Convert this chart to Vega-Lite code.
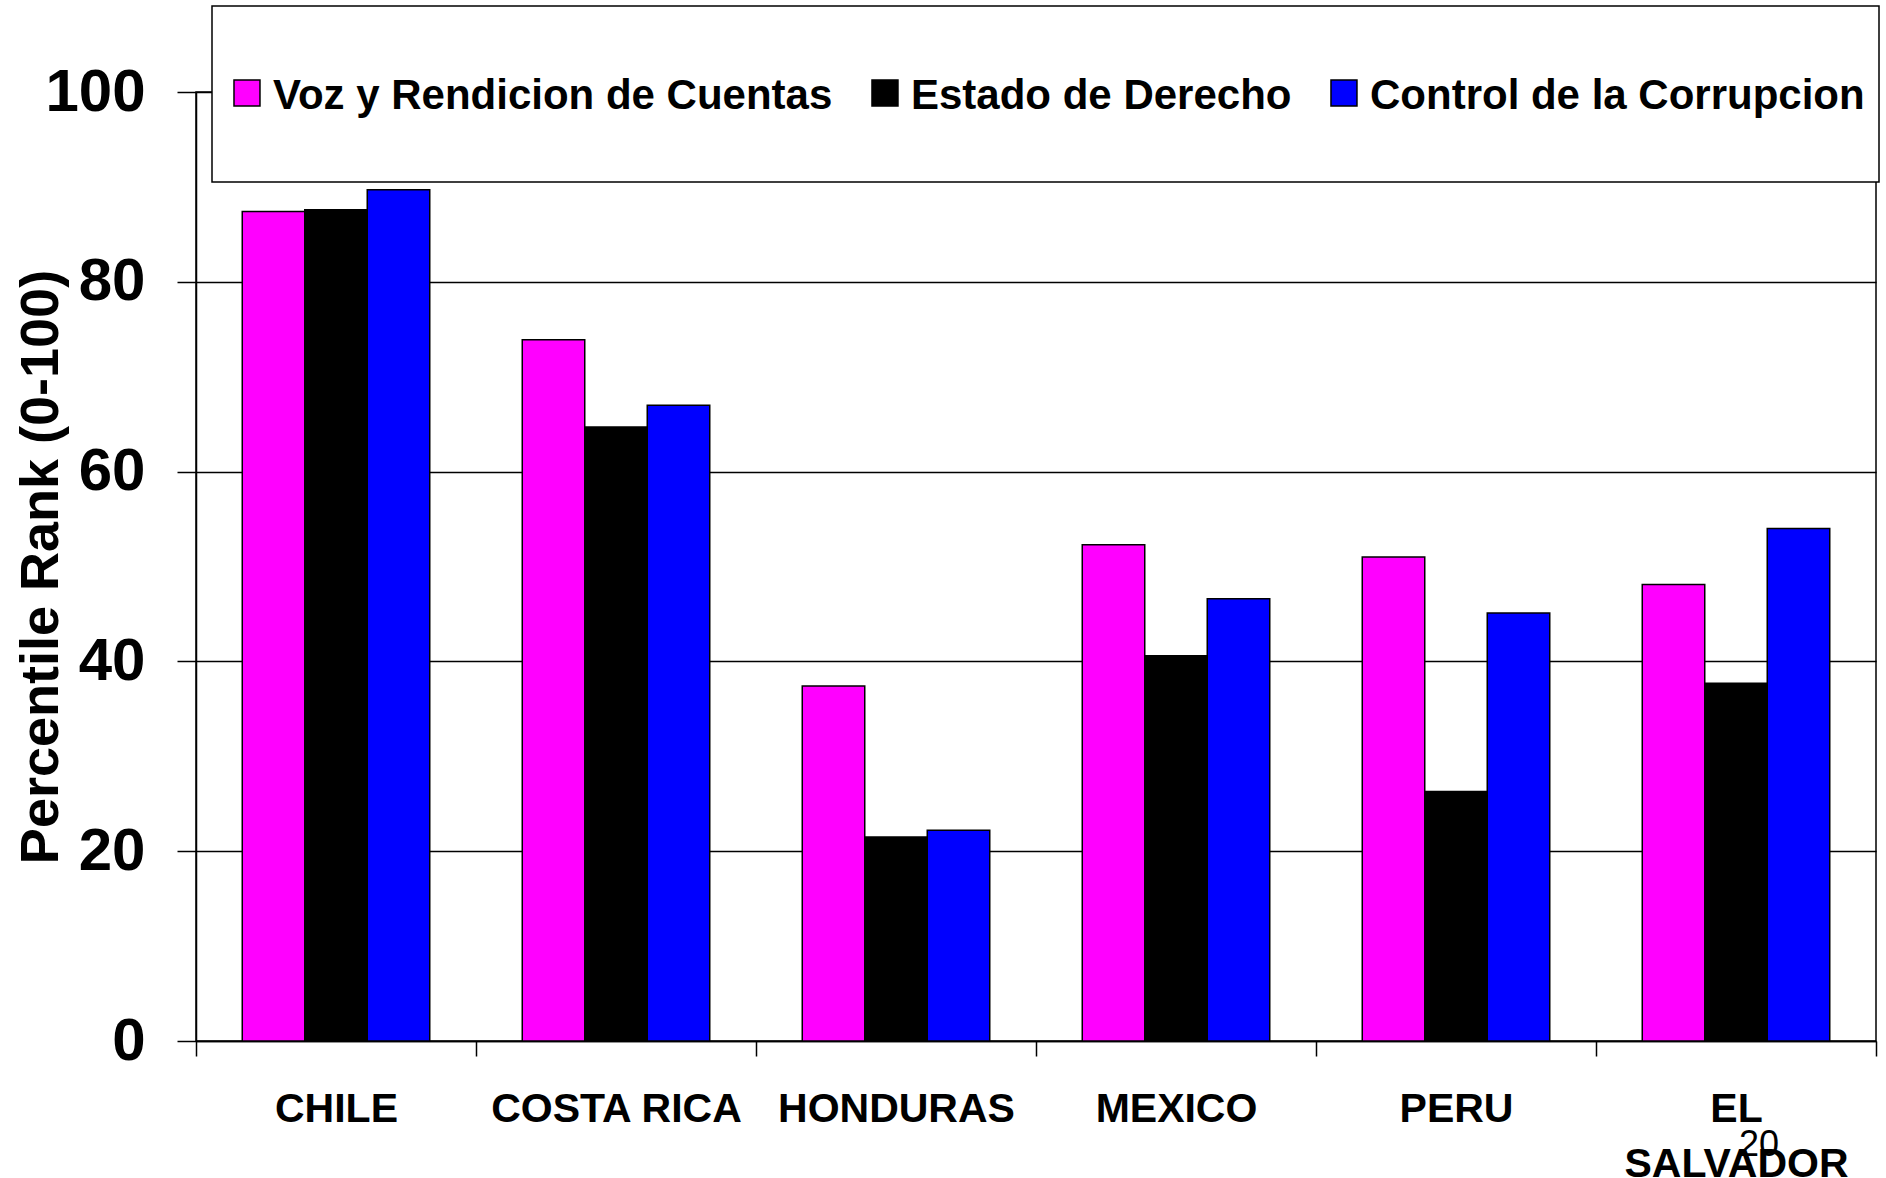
{
  "$schema": "https://vega.github.io/schema/vega-lite/v6.json",
  "width": 1680,
  "height": 949,
  "autosize": {"type": "none"},
  "padding": {"left": 196, "top": 92, "right": 10, "bottom": 137},
  "background": "white",
  "config": {
    "view": {"stroke": "black", "strokeWidth": 1.5},
    "font": "Liberation Sans"
  },
  "title": {
    "text": "20",
    "orient": "bottom",
    "anchor": "end",
    "frame": "group",
    "font": "Liberation Sans",
    "fontSize": 36,
    "fontWeight": "normal",
    "color": "black",
    "baseline": "top",
    "offset": 0,
    "dx": -97,
    "dy": -56
  },
  "data": {
    "values": [
      {"country": "CHILE", "indicator": "Voz y Rendicion de Cuentas", "value": 87.4},
      {"country": "CHILE", "indicator": "Estado de Derecho", "value": 87.6},
      {"country": "CHILE", "indicator": "Control de la Corrupcion", "value": 89.7},
      {"country": "COSTA RICA", "indicator": "Voz y Rendicion de Cuentas", "value": 73.9},
      {"country": "COSTA RICA", "indicator": "Estado de Derecho", "value": 64.7},
      {"country": "COSTA RICA", "indicator": "Control de la Corrupcion", "value": 67.0},
      {"country": "HONDURAS", "indicator": "Voz y Rendicion de Cuentas", "value": 37.4},
      {"country": "HONDURAS", "indicator": "Estado de Derecho", "value": 21.5},
      {"country": "HONDURAS", "indicator": "Control de la Corrupcion", "value": 22.2},
      {"country": "MEXICO", "indicator": "Voz y Rendicion de Cuentas", "value": 52.3},
      {"country": "MEXICO", "indicator": "Estado de Derecho", "value": 40.6},
      {"country": "MEXICO", "indicator": "Control de la Corrupcion", "value": 46.6},
      {"country": "PERU", "indicator": "Voz y Rendicion de Cuentas", "value": 51.0},
      {"country": "PERU", "indicator": "Estado de Derecho", "value": 26.3},
      {"country": "PERU", "indicator": "Control de la Corrupcion", "value": 45.1},
      {"country": "EL SALVADOR", "indicator": "Voz y Rendicion de Cuentas", "value": 48.1},
      {"country": "EL SALVADOR", "indicator": "Estado de Derecho", "value": 37.7},
      {"country": "EL SALVADOR", "indicator": "Control de la Corrupcion", "value": 54.0}
    ]
  },
  "mark": {"type": "bar", "stroke": "black", "strokeWidth": 1.5},
  "encoding": {
    "x": {
      "field": "country",
      "type": "nominal",
      "sort": ["CHILE", "COSTA RICA", "HONDURAS", "MEXICO", "PERU", "EL SALVADOR"],
      "scale": {"paddingInner": 0, "paddingOuter": 0},
      "axis": {
        "title": null,
        "labelAngle": 0,
        "tickBand": "extent",
        "tickSize": 15,
        "tickColor": "black",
        "tickWidth": 1.5,
        "domainColor": "black",
        "domainWidth": 1.5,
        "grid": false,
        "labelFont": "Liberation Sans",
        "labelFontWeight": "bold",
        "labelFontSize": 41,
        "labelColor": "black",
        "labelPadding": 33,
        "labelBaseline": "top",
        "labelLineHeight": 55,
        "labelOverlap": false,
        "labelLimit": 0,
        "labelExpr": "datum.label == 'EL SALVADOR' ? ['EL', 'SALVADOR'] : datum.label"
      }
    },
    "xOffset": {
      "field": "indicator",
      "type": "nominal",
      "sort": ["Voz y Rendicion de Cuentas", "Estado de Derecho", "Control de la Corrupcion"],
      "scale": {"paddingInner": 0, "paddingOuter": 0.74}
    },
    "y": {
      "field": "value",
      "type": "quantitative",
      "scale": {"domain": [0, 100], "nice": false},
      "axis": {
        "title": "Percentile Rank (0-100)",
        "values": [0, 20, 40, 60, 80, 100],
        "grid": true,
        "gridColor": "black",
        "gridWidth": 1.5,
        "gridOpacity": 1,
        "tickSize": 19,
        "tickColor": "black",
        "tickWidth": 1.5,
        "domainColor": "black",
        "domainWidth": 1.5,
        "labelFont": "Liberation Sans",
        "labelFontWeight": "bold",
        "labelFontSize": 60,
        "labelColor": "black",
        "labelPadding": 32,
        "titleFont": "Liberation Sans",
        "titleFontWeight": "bold",
        "titleFontSize": 54,
        "titleColor": "black",
        "titleAngle": 270,
        "titleAlign": "center",
        "titleBaseline": "alphabetic",
        "titleX": -139,
        "titleY": 474.5
      }
    },
    "color": {
      "field": "indicator",
      "type": "nominal",
      "sort": ["Voz y Rendicion de Cuentas", "Estado de Derecho", "Control de la Corrupcion"],
      "scale": {
        "domain": ["Voz y Rendicion de Cuentas", "Estado de Derecho", "Control de la Corrupcion"],
        "range": ["#FF00FF", "#000000", "#0000FF"]
      },
      "legend": {
        "orient": "none",
        "legendX": 16,
        "legendY": -86,
        "direction": "horizontal",
        "columns": 3,
        "title": null,
        "symbolType": "M-1,-1M-1,1M-0.903,-0.181H-0.542V0.181H-0.903Z",
        "symbolSize": 20736,
        "symbolStrokeColor": "black",
        "symbolStrokeWidth": 1.5,
        "symbolOpacity": 1,
        "labelFont": "Liberation Sans",
        "labelFontWeight": "bold",
        "labelFontSize": 42,
        "labelColor": "black",
        "labelOffset": -99,
        "labelLimit": 0,
        "columnPadding": 29,
        "padding": 14,
        "strokeColor": "black",
        "fillColor": "white",
        "encode": {
          "legend": {"update": {"strokeWidth": {"value": 1.5}}},
          "labels": {"update": {"dy": {"value": 2.7}}}
        }
      }
    }
  }
}
